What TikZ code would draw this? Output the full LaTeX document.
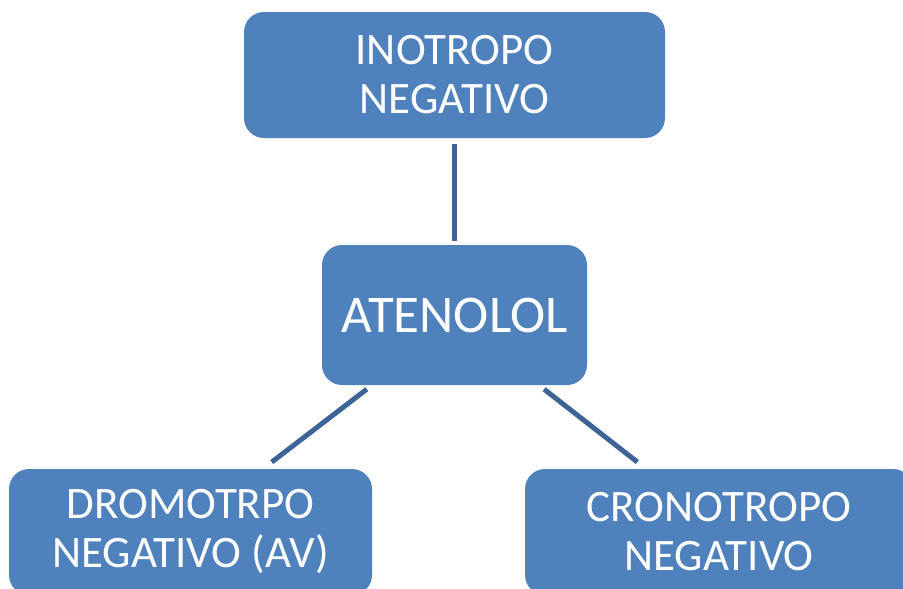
\documentclass[tikz,border=0pt]{standalone}
\usepackage{fontspec}
\setmainfont{Carlito}
\usepackage{tikz}
\usepackage{xcolor}
\usetikzlibrary{positioning, calc}
\definecolor{mBlue}{HTML}{4F81BD}
\definecolor{mLine}{HTML}{3C6496}

\begin{document}
\begin{tikzpicture}[
  x=1pt, y=-1pt,
  blk/.style={fill=mBlue, rounded corners=20pt, text=white, align=center,
              inner sep=0pt, font=\fontsize{45}{49}\selectfont},
  conn/.style={draw=mLine, line width=5pt},
]
  \clip (0,0) rectangle (903,589);
  \node[blk, minimum width=421pt, minimum height=126pt] (ino) at (454.5,75) {INOTROPO\\NEGATIVO};
  \node[blk, minimum width=265pt, minimum height=140pt,
        font=\fontsize{53}{60}\selectfont] (aten) at (454.5,315) {ATENOLOL};
  \node[blk, minimum width=363pt, minimum height=126pt] (dromo) at (190.5,532) {DROMOTRPO\\NEGATIVO (AV)};
  \node[blk, minimum width=388pt, minimum height=126pt] (crono) at (719,532) {CRONOTROPO\\NEGATIVO};

  \draw[conn, shorten <=6pt, shorten >=4pt] (ino.south) -- (aten.north);
  \draw[conn, shorten <=6.5pt, shorten >=11pt] ([xshift=-82.5pt]aten.south) -- ([xshift=72.5pt]dromo.north);
  \draw[conn, shorten <=6.5pt, shorten >=11pt] ([xshift=84.5pt]aten.south) -- ([xshift=-73pt]crono.north);
\end{tikzpicture}
\end{document}
